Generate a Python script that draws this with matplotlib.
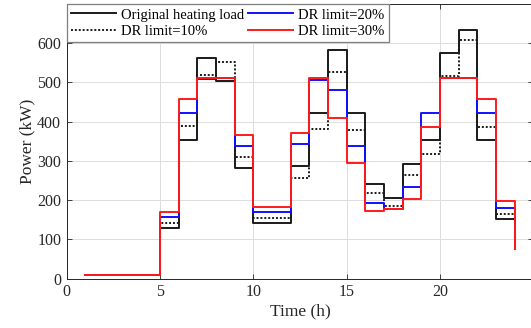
import matplotlib
matplotlib.use("Agg")
import matplotlib.pyplot as plt

hours = list(range(1, 25))
original = [10, 10, 10, 10, 130, 353, 563, 505, 282, 141, 141, 287,
            422, 584, 422, 242, 206, 293, 353, 574, 633, 353, 151, 75]
dr10 = [10, 10, 10, 10, 143, 388, 518, 552, 309, 154, 154, 257,
        382, 527, 380, 218, 184, 263, 317, 516, 607, 387, 165, 75]
dr20 = [10, 10, 10, 10, 158, 422, 510, 512, 337, 170, 170, 343,
        506, 480, 337, 193, 177, 233, 422, 512, 512, 422, 181, 75]
dr30 = [10, 10, 10, 10, 170, 458, 512, 512, 365, 182, 182, 372,
        512, 409, 296, 172, 177, 204, 386, 512, 512, 458, 198, 75]
labels = ["Original heating load", "DR limit=10%", "DR limit=20%", "DR limit=30%"]
xticks = [0, 5, 10, 15, 20]
yticks = [0, 100, 200, 300, 400, 500, 600]

plt.rcParams['font.family'] = ['Liberation Serif', 'DejaVu Serif']

fig = plt.figure(figsize=(5.31, 3.28), dpi=100)
W, H = 531, 328
left, right, bottom, top = 66.7, 533.3, 278.7, 4.0
ax = fig.add_axes([left / W, (H - bottom) / H, (right - left) / W, (bottom - top) / H])

lw = 1.4
ax.step(hours, original, where='post', color='#1a1a1a', lw=lw, label=labels[0])
ax.step(hours, dr10, where='post', color='#1a1a1a', lw=lw, linestyle=(0, (1, 1)), label=labels[1])
ax.step(hours, dr20, where='post', color='#1010ff', lw=lw, label=labels[2])
ax.step(hours, dr30, where='post', color='#ff1a1a', lw=lw, label=labels[3])

ax.set_xlim(0, 25)
ax.set_ylim(0, 700)
ax.set_xticks(xticks)
ax.set_yticks(yticks)
ax.tick_params(direction='in', top=True, right=True, length=3.5, width=0.6,
               labelsize=11.5, colors='#262626', pad=4)
ax.grid(True, color='#dcdcdc', lw=0.7)
ax.set_axisbelow(True)
for s in ax.spines.values():
    s.set_color('#262626')
    s.set_linewidth(0.7)

ax.set_xlabel("Time (h)", fontsize=12.5, color='#262626', labelpad=2)
ax.set_ylabel("Power (kW)", fontsize=12.5, color='#262626', labelpad=1)

leg = ax.legend(loc='upper left', bbox_to_anchor=(0, 1), borderaxespad=0, ncol=2,
                fontsize=10.5, handlelength=3.1, handletextpad=0.35, columnspacing=0.25,
                labelspacing=0.2, borderpad=0.3, fancybox=False, framealpha=1,
                edgecolor='#7f7f7f')
leg.get_frame().set_linewidth(0.9)

fig.savefig("out.png", dpi=100)
